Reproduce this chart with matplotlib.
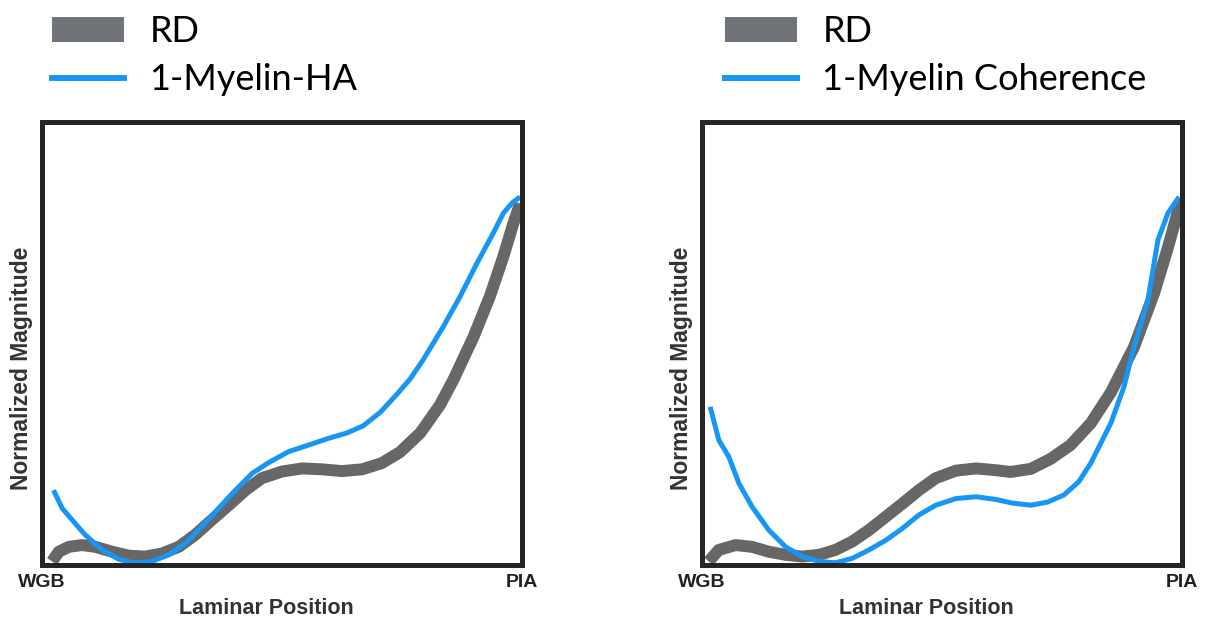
import numpy as np
import matplotlib
matplotlib.use("Agg")
import matplotlib.pyplot as plt
from matplotlib.patches import Patch
from matplotlib.lines import Line2D

# laminar position (0 = WGB, 1 = PIA) and normalized magnitudes
ha_rd_x = [0.021, 0.035, 0.056, 0.083, 0.111, 0.146, 0.181, 0.215, 0.250, 0.285, 0.319, 0.354,
           0.389, 0.424, 0.458, 0.500, 0.542, 0.583, 0.625, 0.667, 0.708, 0.746, 0.788, 0.829,
           0.857, 0.899, 0.933, 0.961, 0.982, 0.996]
ha_rd_y = [0.008, 0.030, 0.041, 0.045, 0.041, 0.030, 0.021, 0.019, 0.026, 0.041, 0.068, 0.102,
           0.135, 0.169, 0.196, 0.211, 0.218, 0.216, 0.212, 0.216, 0.230, 0.255, 0.298, 0.361,
           0.418, 0.515, 0.606, 0.696, 0.771, 0.816]

ha_x = [0.024, 0.042, 0.069, 0.090, 0.125, 0.160, 0.194, 0.229, 0.264, 0.299, 0.333, 0.368,
        0.403, 0.438, 0.472, 0.514, 0.556, 0.597, 0.635, 0.669, 0.705, 0.739, 0.767, 0.794,
        0.836, 0.871, 0.906, 0.940, 0.961, 0.980, 0.996]
ha_y = [0.169, 0.128, 0.094, 0.068, 0.034, 0.013, 0.004, 0.008, 0.023, 0.049, 0.087, 0.128,
        0.169, 0.207, 0.231, 0.256, 0.271, 0.286, 0.298, 0.314, 0.345, 0.385, 0.420, 0.463,
        0.538, 0.606, 0.681, 0.749, 0.794, 0.818, 0.831]

coh_rd_x = [0.014, 0.035, 0.070, 0.104, 0.139, 0.174, 0.209, 0.244, 0.278, 0.313, 0.348, 0.383,
            0.418, 0.452, 0.487, 0.529, 0.571, 0.612, 0.643, 0.685, 0.727, 0.768, 0.810, 0.852,
            0.900, 0.942, 0.971, 0.998]
coh_rd_y = [0.008, 0.034, 0.045, 0.041, 0.030, 0.023, 0.019, 0.023, 0.034, 0.053, 0.079, 0.109,
            0.139, 0.169, 0.196, 0.213, 0.218, 0.214, 0.210, 0.217, 0.240, 0.271, 0.320, 0.390,
            0.492, 0.614, 0.718, 0.824]

coh_x = [0.017, 0.035, 0.056, 0.077, 0.104, 0.139, 0.174, 0.209, 0.244, 0.278, 0.313, 0.348,
         0.383, 0.418, 0.452, 0.487, 0.529, 0.571, 0.612, 0.645, 0.685, 0.720, 0.754, 0.785,
         0.810, 0.852, 0.879, 0.900, 0.929, 0.950, 0.971, 0.994]
coh_y = [0.357, 0.282, 0.244, 0.184, 0.132, 0.079, 0.041, 0.019, 0.008, 0.005, 0.015, 0.034,
         0.056, 0.083, 0.113, 0.135, 0.150, 0.154, 0.148, 0.140, 0.135, 0.142, 0.158, 0.188,
         0.230, 0.321, 0.402, 0.492, 0.598, 0.734, 0.795, 0.831]

legend_labels = ["1-Myelin-HA", "1-Myelin Coherence"]

gray = "#676767"
blue = "#1797f3"
frame = "#262626"
label_font = "Liberation Sans"

fig = plt.figure(figsize=(12.06, 6.25), dpi=100)
W, H = 1206, 625

# (axes left edge px, legend left edge px, curves...)
panels = [
    (42, 52, ha_rd_x, ha_rd_y, ha_x, ha_y, legend_labels[0]),
    (702, 725, coh_rd_x, coh_rd_y, coh_x, coh_y, legend_labels[1]),
]

for left_px, leg_px, rx, ry, bx, by, label in panels:
    ax = fig.add_axes([left_px / W, 1 - 565 / H, 480 / W, 443 / H])
    ax.plot(rx, ry, color=gray, lw=8.6, solid_capstyle="butt", solid_joinstyle="round", zorder=2)
    ax.plot(bx, by, color=blue, lw=3.6, solid_capstyle="butt", solid_joinstyle="round", zorder=3)
    ax.set_xlim(0, 1)
    ax.set_ylim(0, 1)
    ax.set_xticks([])
    ax.set_yticks([])
    for sp in ax.spines.values():
        sp.set_linewidth(3.6)
        sp.set_color(frame)
        sp.set_zorder(5)

    ax.text(0, -0.04, "WGB", transform=ax.transAxes, ha="center", va="center",
            fontsize=14, fontweight="bold", color="#222222", family=label_font)
    ax.text(1, -0.04, "PIA", transform=ax.transAxes, ha="center", va="center",
            fontsize=14, fontweight="bold", color="#222222", family=label_font)
    ax.text(0.467, -0.099, "Laminar Position", transform=ax.transAxes, ha="center", va="center",
            fontsize=15.5, fontweight="bold", color="#333333", family=label_font)
    ax.text(-0.042, 0.445, "Normalized Magnitude", transform=ax.transAxes, ha="center",
            va="center", rotation=90, fontsize=16.5, fontweight="bold", color="#333333",
            family=label_font)

    handles = [Patch(facecolor="#6f7277", edgecolor="none", label="RD"),
               Line2D([], [], color=blue, lw=4.3, label=label)]
    fig.legend(handles=handles, loc="upper left",
               bbox_to_anchor=(leg_px / W, 1 - 15 / H),
               bbox_transform=fig.transFigure, frameon=False,
               prop={"family": "Lato", "size": 26},
               handlelength=2.0, handleheight=0.7, handletextpad=0.7,
               labelspacing=0.42, borderpad=0, borderaxespad=0)

fig.savefig("out.png", dpi=100, facecolor="white")
